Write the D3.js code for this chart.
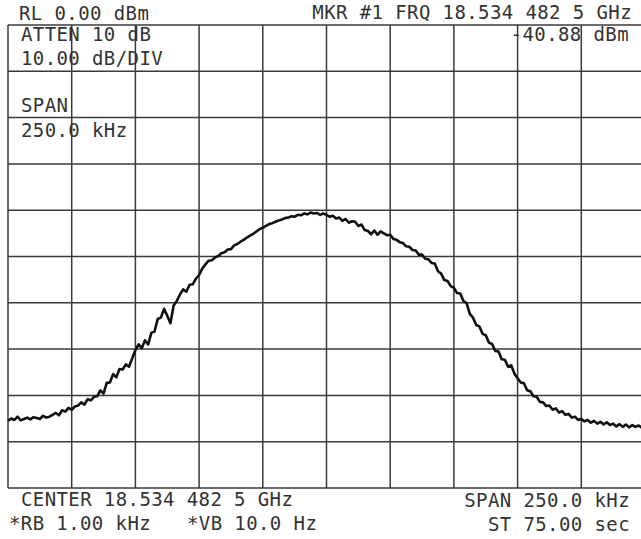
<!DOCTYPE html>
<html>
<head>
<meta charset="utf-8">
<script src="https://cdn.jsdelivr.net/npm/d3@7"></script>
<style>
  html, body { margin: 0; padding: 0; background: #fff; }
  svg { display: block; }
  .lbl { font-family: "DejaVu Sans Mono", monospace; font-size: 19px; fill: #333; letter-spacing: 0.4px; }
</style>
</head>
<body>
<div id="chart"></div>
<script>
'use strict';

// frequency span, kHz offset from center
const spanKHz = [-125, 125];
// reference level range, dBm (10 dB/div)
const levelDBm = [-100, 0];
const freqGrid = [-125, -100, -75, -50, -25, 0, 25, 50, 75, 100, 125];
const levelGrid = [0, -10, -20, -30, -40, -50, -60, -70, -80, -90, -100];

// trace, dBm, 201 sweep points across the span
const trace = [
  -85.5, -85.0, -85.3, -84.6, -85.4, -85.1, -84.8, -85.2, -84.7, -84.9,
  -85.1, -84.4, -84.8, -84.6, -84.2, -83.8, -84.3, -83.2, -83.5, -82.7,
  -83.1, -82.4, -82.2, -81.5, -82.0, -80.8, -81.1, -80.3, -80.2, -78.9,
  -79.6, -77.3, -77.2, -75.4, -76.1, -74.3, -74.4, -73.3, -73.8, -72.0,
  -70.2, -69.0, -69.8, -68.1, -69.0, -66.5, -66.2, -63.5, -63.2, -61.3,
  -62.8, -64.4, -60.6, -59.6, -58.2, -57.1, -57.6, -56.1, -56.0, -54.8,
  -54.0, -52.6, -51.7, -50.9, -50.8, -50.2, -49.9, -49.3, -49.1, -48.5,
  -48.4, -47.6, -47.3, -46.8, -46.4, -45.9, -45.5, -45.1, -44.6, -44.1,
  -43.8, -43.4, -43.0, -42.8, -42.5, -42.2, -42.0, -41.7, -41.6, -41.3,
  -41.4, -41.0, -41.1, -40.7, -40.9, -40.5, -40.7, -40.6, -41.0, -40.7,
  -41.0, -41.4, -41.2, -41.8, -41.6, -42.3, -41.9, -42.7, -42.4, -42.5,
  -43.4, -43.1, -44.3, -44.5, -45.2, -44.4, -45.3, -44.6, -45.0, -45.4,
  -45.3, -46.2, -46.4, -46.9, -47.1, -47.8, -47.9, -48.6, -48.7, -49.6,
  -49.6, -50.5, -50.6, -51.4, -51.5, -53.2, -53.7, -55.1, -55.3, -56.4,
  -56.8, -57.9, -58.0, -59.6, -60.1, -62.4, -63.2, -64.8, -65.1, -66.7,
  -67.0, -68.6, -68.9, -70.4, -70.5, -72.2, -72.3, -73.8, -73.5, -75.3,
  -76.3, -77.2, -77.4, -78.9, -79.1, -80.2, -80.3, -81.4, -81.5, -82.3,
  -82.2, -83.1, -82.8, -83.7, -83.4, -84.2, -84.0, -84.8, -84.6, -85.3,
  -85.1, -85.6, -85.3, -85.9, -85.5, -86.1, -85.7, -86.3, -85.8, -86.4,
  -86.1, -86.7, -86.2, -86.8, -86.3, -86.9, -86.4, -86.8, -86.5, -87.0,
  -86.7
];

const topLabels = ["RL 0.00 dBm", "MKR #1 FRQ 18.534 482 5 GHz"];
const innerLabels = ["ATTEN 10 dB", "10.00 dB/DIV", "SPAN", "250.0 kHz"];
const markerLabel = "-40.88 dBm";
const bottomLeft = ["CENTER 18.534 482 5 GHz", "*RB 1.00 kHz", "*VB 10.0 Hz"];
const bottomRight = ["SPAN 250.0 kHz", "ST 75.00 sec"];

const W = 641, H = 539;
const margin = {top: 25, left: 8, right: -4, bottom: 51};

const svg = d3.select("#chart").append("svg")
    .attr("width", W)
    .attr("height", H);

const x = d3.scaleLinear().domain(spanKHz).range([margin.left, W - margin.right]);
const y = d3.scaleLinear().domain(levelDBm).range([H - margin.bottom, margin.top]);

// graticule
const grid = svg.append("g")
    .attr("stroke", "#3a3a3a")
    .attr("stroke-width", 1.5);

grid.selectAll("line.v")
  .data(freqGrid)
  .join("line")
    .attr("class", "v")
    .attr("x1", d => x(d)).attr("x2", d => x(d))
    .attr("y1", y(0)).attr("y2", y(-100));

grid.selectAll("line.h")
  .data(levelGrid)
  .join("line")
    .attr("class", "h")
    .attr("x1", x(-125)).attr("x2", x(125))
    .attr("y1", d => y(d)).attr("y2", d => y(d));

// trace
const xi = d3.scaleLinear().domain([0, trace.length - 1]).range(spanKHz);

svg.append("path")
    .datum(trace)
    .attr("fill", "none")
    .attr("stroke", "#111")
    .attr("stroke-width", 2.6)
    .attr("stroke-linejoin", "round")
    .attr("d", d3.line()
      .x((d, i) => x(xi(i)))
      .y(d => y(d)));

// annotations
function label(txt, px, py, anchor) {
    svg.append("text")
        .attr("class", "lbl")
        .attr("x", px)
        .attr("y", py)
        .attr("text-anchor", anchor || "start")
        .text(txt);
}

label(topLabels[0], 19, 20);
label(topLabels[1], 632, 19, "end");

label(innerLabels[0], 21, 41);
label(innerLabels[1], 21, 65);
label(innerLabels[2], 21, 112);
label(innerLabels[3], 21, 137);

label(markerLabel, 629, 41, "end");

label(bottomLeft[0], 21, 506);
label(bottomLeft[1], 9, 530);
label(bottomLeft[2], 187, 530);

label(bottomRight[0], 630, 507, "end");
label(bottomRight[1], 630, 531, "end");
</script>
</body>
</html>
